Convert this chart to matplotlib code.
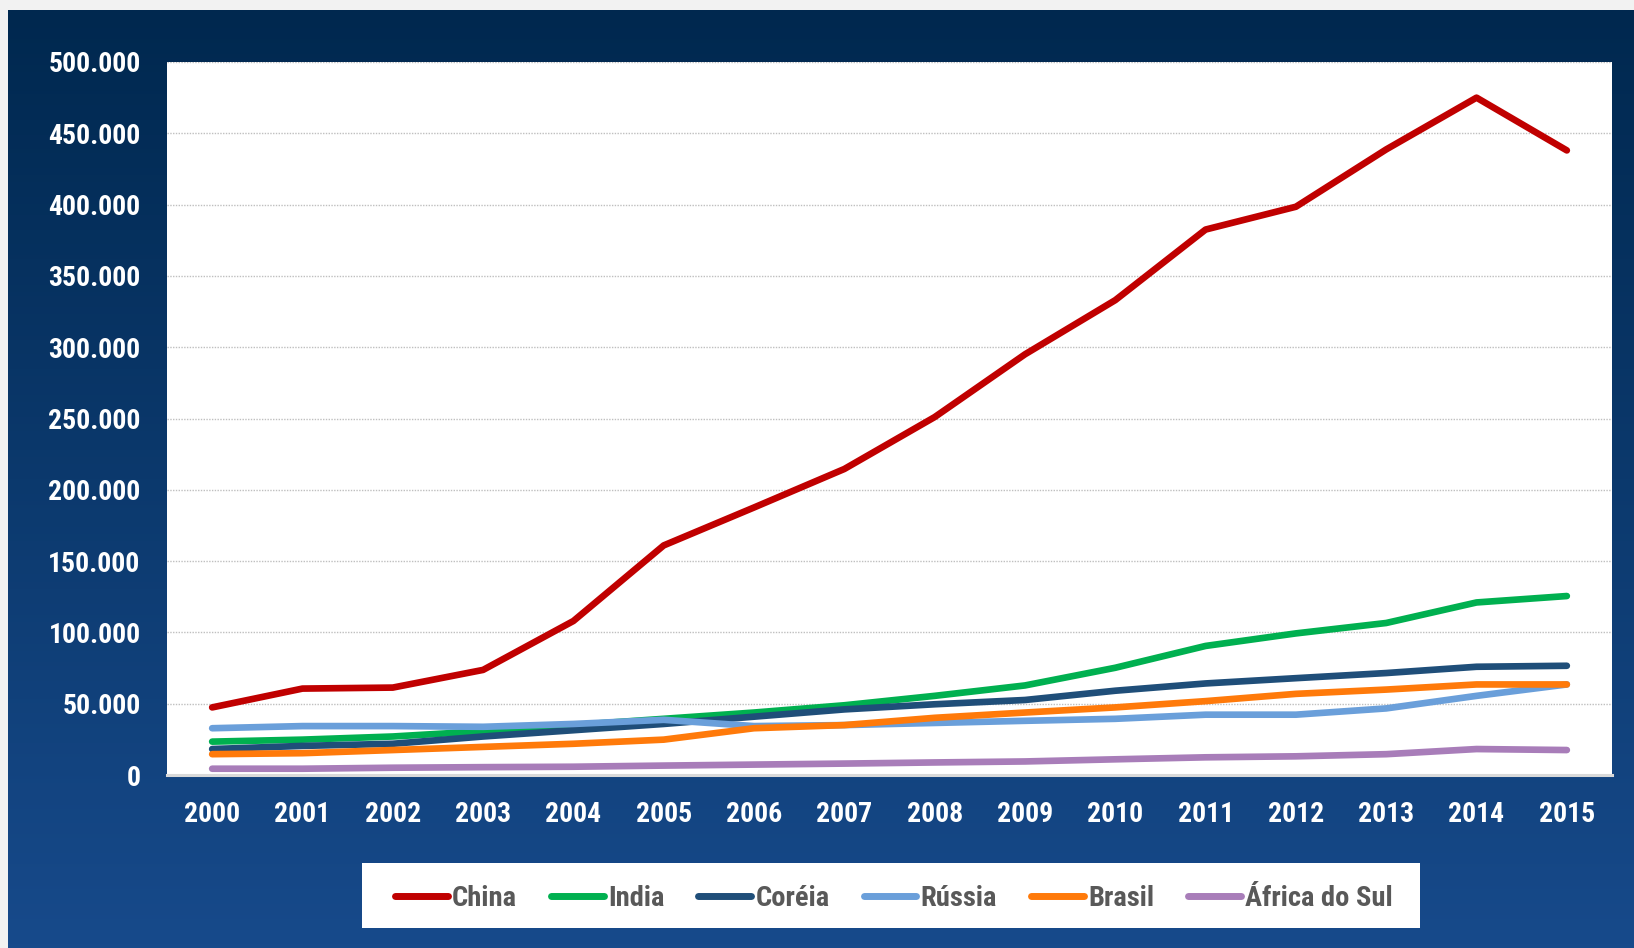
import numpy as np
import matplotlib
matplotlib.use('Agg')
import matplotlib.pyplot as plt
from matplotlib.colors import LinearSegmentedColormap
from matplotlib.patches import Rectangle

plt.rcParams['font.family'] = ['Roboto Condensed', 'DejaVu Sans']
plt.rcParams['font.weight'] = 'bold'
plt.rcParams['font.stretch'] = 'condensed'

# séries por país
anos = [str(a) for a in range(2000, 2016)]
china = [47400, 60600, 61300, 73700, 108000, 161000, 187600, 214600,
         251000, 295000, 333000, 382500, 398500, 438700, 475000, 438000]
india = [23400, 24800, 27000, 30700, 35000, 39400, 43800, 48900,
         55500, 62800, 75200, 90500, 99300, 106600, 121000, 125500]
coreia = [18200, 20400, 21900, 27000, 31400, 35800, 40900, 46000,
          49600, 52600, 59100, 64200, 67900, 71500, 75900, 76600]
russia = [32800, 34300, 34300, 33800, 35800, 38700, 34300, 35000,
          36500, 38000, 39400, 42300, 42300, 46700, 55500, 63500]
brasil = [14600, 15300, 17500, 19700, 21900, 24800, 32800, 35000,
          40100, 43800, 47400, 51800, 56900, 59900, 63500, 63500]
africa_sul = [4400, 4400, 5100, 5500, 5800, 6600, 7300, 8000,
              8800, 9500, 11000, 12400, 13100, 14600, 18200, 17500]

paises = ['China', 'India', 'Coréia', 'Rússia', 'Brasil', 'África do Sul']
series = [china, india, coreia, russia, brasil, africa_sul]
cores = ['#C00000', '#00B050', '#1F4E79', '#6A9FDA', '#FF7A0A', '#A87DB9']

W, H = 1634, 948
fig = plt.figure(figsize=(W / 100, H / 100), dpi=100)
fig.patch.set_facecolor('#F2F2F2')

# painel de fundo com degradê azul
bg = fig.add_axes([8 / W, 0, 1 - 8 / W, (H - 10) / H], zorder=0)
cmap = LinearSegmentedColormap.from_list('fundo', ['#00284F', '#174A8B'])
bg.imshow(np.linspace(0, 1, 256).reshape(-1, 1), aspect='auto', cmap=cmap,
          extent=[0, 1, 0, 1], origin='upper')
bg.axis('off')

ax = fig.add_axes([167 / W, (H - 775) / H, (1612 - 167) / W, (775 - 62) / H], zorder=1)
ax.set_facecolor('white')

x = np.arange(len(anos))
for nome, vals, cor in zip(paises, series, cores):
    ax.plot(x, vals, color=cor, lw=4.8, solid_capstyle='round',
            solid_joinstyle='round', label=nome, zorder=3)

ax.set_xlim(-0.5, len(anos) - 0.5)
ax.set_ylim(0, 500000)
ax.set_xticks(x)
ax.set_xticklabels(anos)
yt = np.arange(0, 500001, 50000)
ax.set_yticks(yt)
ax.set_yticklabels([f'{v:,.0f}'.replace(',', '.') for v in yt])
ax.tick_params(length=0, labelsize=20, labelcolor='white')
ax.tick_params(axis='y', pad=19)
ax.tick_params(axis='x', pad=19)
for lbl in ax.get_xticklabels() + ax.get_yticklabels():
    lbl.set_fontweight('bold')
    lbl.set_fontstretch('condensed')

ax.grid(axis='y', color='#BFBFBF', lw=1, ls=(0, (1, 1)), zorder=0)
for s in ['top', 'left', 'right']:
    ax.spines[s].set_visible(False)
ax.spines['bottom'].set_color('#D9D9D9')
ax.spines['bottom'].set_linewidth(2.2)

# caixa branca da legenda
fig.patches.append(Rectangle((362 / W, (H - 928) / H), (1420 - 362) / W, 65 / H,
                             transform=fig.transFigure, facecolor='white',
                             edgecolor='none', zorder=2))

leg = fig.legend(loc='center', bbox_to_anchor=(894 / W, 1 - 898 / H),
                 ncol=6, frameon=False, fontsize=20.5,
                 handlelength=1.85, handletextpad=0.15, columnspacing=1.2,
                 borderaxespad=0)
leg.set_zorder(3)
for t in leg.get_texts():
    t.set_color('#595959')
    t.set_fontweight('bold')
for h in leg.get_lines():
    h.set_linewidth(5)
    h.set_solid_capstyle('round')

fig.savefig('out.png', dpi=100, facecolor=fig.get_facecolor())
